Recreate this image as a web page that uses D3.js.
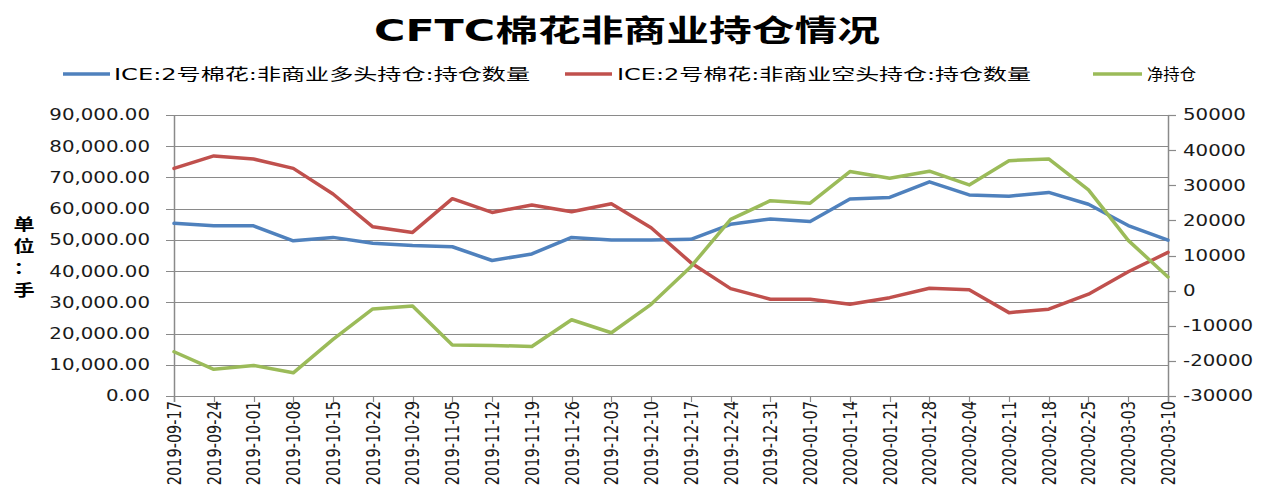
<!DOCTYPE html>
<html>
<head>
<meta charset="utf-8">
<script src="https://cdn.jsdelivr.net/npm/d3@7"></script>
<style>
    body { margin: 0; background: #fff; }
    svg { display: block; }
    text { font-family: "DejaVu Sans", "Noto Sans CJK SC", sans-serif; fill: #1a1a1a; }
</style>
</head>
<body>
<svg id="chart" width="1268" height="493"></svg>
<script>
// weekly report dates
const dates = [
    "2019-09-17", "2019-09-24", "2019-10-01", "2019-10-08", "2019-10-15", "2019-10-22",
    "2019-10-29", "2019-11-05", "2019-11-12", "2019-11-19", "2019-11-26", "2019-12-03",
    "2019-12-10", "2019-12-17", "2019-12-24", "2019-12-31", "2020-01-07", "2020-01-14",
    "2020-01-21", "2020-01-28", "2020-02-04", "2020-02-11", "2020-02-18", "2020-02-25",
    "2020-03-03", "2020-03-10"
];

// non-commercial long positions (left axis)
const longPos = [
    55300, 54500, 54500, 49700, 50800, 48900, 48200, 47800, 43400, 45500, 50800, 50000,
    50000, 50200, 55000, 56700, 55900, 63100, 63600, 68600, 64400, 64000, 65200, 61400,
    54600, 49900
];

// non-commercial short positions (left axis)
const shortPos = [
    72900, 76900, 75900, 72900, 64700, 54200, 52400, 63200, 58800, 61200, 59000, 61600,
    53900, 42700, 34400, 31000, 31000, 29400, 31500, 34500, 34000, 26700, 27800, 32600,
    39800, 46000
];

// net positions (right axis)
const netPos = [
    -17400, -22400, -21300, -23400, -13900, -5200, -4400, -15500, -15600, -15900, -8300, -12000,
    -3900, 6800, 20300, 25600, 24900, 33900, 32000, 34000, 30100, 37000, 37500, 28700,
    14300, 3900
];

const leftTicks = [0, 10000, 20000, 30000, 40000, 50000, 60000, 70000, 80000, 90000];
const rightTicks = [-30000, -20000, -10000, 0, 10000, 20000, 30000, 40000, 50000];

const titleText = "CFTC棉花非商业持仓情况";
const yTitleChars = ["单", "位", "：", "手"];
const seriesNames = [
    "ICE:2号棉花:非商业多头持仓:持仓数量",
    "ICE:2号棉花:非商业空头持仓:持仓数量",
    "净持仓"
];

const colors = ["#4f81bd", "#c0504d", "#9bbb59"];
const gridColor = "#8a8a8a";
const stretch = 1.32;   // the original picture is drawn wider than tall

const svg = d3.select("#chart");

const plot = { left: 174, right: 1168, top: 115, bottom: 396 };

const x = d3.scalePoint().domain(dates).range([plot.left, plot.right]);
const yLeft = d3.scaleLinear().domain([0, 90000]).range([plot.bottom, plot.top]);
const yRight = d3.scaleLinear().domain([-30000, 50000]).range([plot.bottom, plot.top]);

// Title
svg.append("text")
    .attr("x", 627)
    .attr("y", 41)
    .attr("text-anchor", "middle")
    .attr("font-size", "30px")
    .attr("font-weight", "bold")
    .attr("textLength", 506)
    .attr("lengthAdjust", "spacingAndGlyphs")
    .style("fill", "#000")
    .text(titleText);

// Legend
const legendItems = [
    { x0: 63, x1: 110, tx: 114, tw: 416 },
    { x0: 565, x1: 612, tx: 617, tw: 414 },
    { x0: 1093, x1: 1142, tx: 1147, tw: 49 }
];
const legend = svg.append("g").attr("class", "legend");
legendItems.forEach((item, i) => {
    legend.append("line")
        .attr("x1", item.x0).attr("x2", item.x1)
        .attr("y1", 74).attr("y2", 74)
        .attr("stroke", colors[i])
        .attr("stroke-width", 3.5);
    legend.append("text")
        .attr("x", item.tx)
        .attr("y", 80)
        .attr("font-size", "16px")
        .attr("textLength", item.tw)
        .attr("lengthAdjust", "spacingAndGlyphs")
        .style("fill", "#000")
        .text(seriesNames[i]);
});

// Gridlines (left axis) with small outer ticks
const grid = svg.append("g").attr("class", "grid");
grid.selectAll("line")
    .data(leftTicks)
    .join("line")
    .attr("x1", plot.left - 8)
    .attr("x2", plot.right)
    .attr("y1", d => Math.round(yLeft(d)) + 0.5)
    .attr("y2", d => Math.round(yLeft(d)) + 0.5)
    .attr("stroke", gridColor)
    .attr("stroke-width", 1.2);

// Left axis line
svg.append("line")
    .attr("x1", plot.left + 0.5).attr("x2", plot.left + 0.5)
    .attr("y1", plot.top).attr("y2", plot.bottom + 6)
    .attr("stroke", gridColor)
    .attr("stroke-width", 1.5);

// Right axis line and ticks
svg.append("line")
    .attr("x1", plot.right + 0.5).attr("x2", plot.right + 0.5)
    .attr("y1", plot.top).attr("y2", plot.bottom + 6)
    .attr("stroke", gridColor)
    .attr("stroke-width", 1.5);
svg.append("g")
    .selectAll("line")
    .data(rightTicks)
    .join("line")
    .attr("x1", plot.right)
    .attr("x2", plot.right + 8)
    .attr("y1", d => Math.round(yRight(d)) + 0.5)
    .attr("y2", d => Math.round(yRight(d)) + 0.5)
    .attr("stroke", gridColor)
    .attr("stroke-width", 1.2);

// Category tick marks under the bottom axis
svg.append("g")
    .selectAll("line")
    .data(dates)
    .join("line")
    .attr("x1", d => Math.round(x(d)) + 0.5)
    .attr("x2", d => Math.round(x(d)) + 0.5)
    .attr("y1", plot.bottom)
    .attr("y2", plot.bottom + 6)
    .attr("stroke", gridColor)
    .attr("stroke-width", 1.2);

// Left tick labels
const fmtLeft = d3.format(",.2f");
svg.append("g")
    .selectAll("text")
    .data(leftTicks)
    .join("text")
    .attr("transform", d => `translate(150,${yLeft(d)}) scale(${stretch},1)`)
    .attr("dy", "0.36em")
    .attr("text-anchor", "end")
    .attr("font-size", "15px")
    .text(d => fmtLeft(d));

// Right tick labels
svg.append("g")
    .selectAll("text")
    .data(rightTicks)
    .join("text")
    .attr("transform", d => `translate(1183,${yRight(d)}) scale(${stretch},1)`)
    .attr("dy", "0.36em")
    .attr("text-anchor", "start")
    .attr("font-size", "15px")
    .text(d => d);

// Date labels, rotated
svg.append("g")
    .selectAll("text")
    .data(dates)
    .join("text")
    .attr("transform", d => `translate(${x(d)},401) scale(${stretch},1) rotate(-90)`)
    .attr("dy", "0.36em")
    .attr("text-anchor", "end")
    .attr("font-size", "14.5px")
    .text(d => d);

// Vertical unit label
svg.append("g")
    .selectAll("text")
    .data(yTitleChars)
    .join("text")
    .attr("transform", (d, i) => `translate(24,${224 + i * 22}) scale(${stretch},1)`)
    .attr("dy", "0.36em")
    .attr("text-anchor", "middle")
    .attr("font-size", "16px")
    .attr("font-weight", "bold")
    .style("fill", "#000")
    .text(d => d);

// Series lines
const lineLeft = d3.line().x((d, i) => x(dates[i])).y(d => yLeft(d));
const lineRight = d3.line().x((d, i) => x(dates[i])).y(d => yRight(d));

const series = [
    { values: longPos, gen: lineLeft, color: colors[0] },
    { values: shortPos, gen: lineLeft, color: colors[1] },
    { values: netPos, gen: lineRight, color: colors[2] }
];

series.forEach(s => {
    svg.append("path")
        .datum(s.values)
        .attr("d", s.gen)
        .attr("fill", "none")
        .attr("stroke", s.color)
        .attr("stroke-width", 3.5)
        .attr("stroke-linejoin", "round")
        .attr("stroke-linecap", "round");
});
</script>
</body>
</html>
